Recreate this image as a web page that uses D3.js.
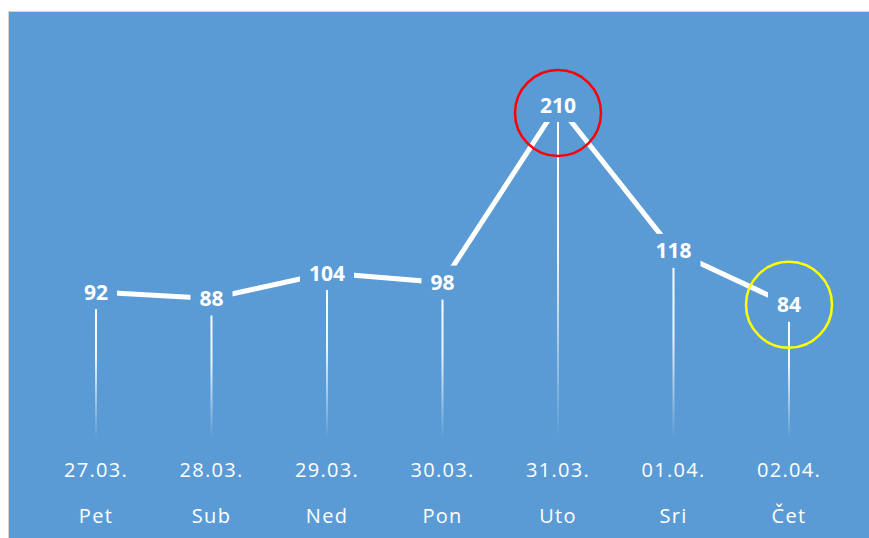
<!DOCTYPE html>
<html>
<head>
<meta charset="utf-8">
<script src="https://cdn.jsdelivr.net/npm/d3@7"></script>
<style>
  body { margin: 0; background: #fff; }
  svg { display: block; }
</style>
</head>
<body>
<svg width="869" height="538"></svg>
<script>
const dates = ["27.03.", "28.03.", "29.03.", "30.03.", "31.03.", "01.04.", "02.04."];
const days = ["Pet", "Sub", "Ned", "Pon", "Uto", "Sri", "Čet"];
const values = [92, 88, 104, 98, 210, 118, 84];
const highlights = [{idx: 4, color: "#ff0000", dy: 8}, {idx: 6, color: "#ffff00", dy: 0}];

const width = 869, height = 538;
const bg = "#5b9bd5";

const svg = d3.select("svg");

// chart area border + background
svg.append("rect")
    .attr("x", 8.5).attr("y", 11.5)
    .attr("width", width).attr("height", height)
    .attr("fill", bg)
    .attr("stroke", "#d4d4d4")
    .attr("stroke-width", 1);

const x = d3.scalePoint()
    .domain(dates)
    .range([96, 789]);

const y = d3.scaleLinear()
    .domain([0, 210])
    .range([438, 105]);

const data = dates.map((d, i) => ({date: d, day: days[i], value: values[i]}));

// gradient for drop lines
const defs = svg.append("defs");
const grad = defs.append("linearGradient")
    .attr("id", "dropGrad")
    .attr("x1", 0).attr("y1", 0).attr("x2", 0).attr("y2", 1);
grad.append("stop").attr("offset", "0%").attr("stop-color", "#fff").attr("stop-opacity", 1);
grad.append("stop").attr("offset", "45%").attr("stop-color", "#fff").attr("stop-opacity", 0.9);
grad.append("stop").attr("offset", "100%").attr("stop-color", "#fff").attr("stop-opacity", 0);

// drop lines
svg.append("g").selectAll("rect")
    .data(data)
    .enter()
    .append("rect")
    .attr("x", d => x(d.date) - 1)
    .attr("y", d => y(d.value))
    .attr("width", 2)
    .attr("height", d => y(0) - y(d.value))
    .attr("fill", "url(#dropGrad)");

// series line
const line = d3.line()
    .x(d => x(d.date))
    .y(d => y(d.value));

svg.append("path")
    .datum(data)
    .attr("fill", "none")
    .attr("stroke", "#fff")
    .attr("stroke-width", 5)
    .attr("d", line);

// data labels with background boxes
const labels = svg.append("g").selectAll("g")
    .data(data)
    .enter()
    .append("g")
    .attr("transform", d => `translate(${x(d.date)}, ${y(d.value)})`);

labels.append("rect")
    .attr("fill", bg);

labels.append("text")
    .attr("text-anchor", "middle")
    .attr("y", 7.5)
    .attr("fill", "#fff")
    .attr("font-family", "'Open Sans', sans-serif")
    .attr("font-weight", "bold")
    .attr("font-size", "21px")
    .text(d => d.value);

labels.each(function() {
    const g = d3.select(this);
    const w = g.select("text").node().getComputedTextLength();
    g.select("rect")
        .attr("x", -w / 2 - 9)
        .attr("y", -17)
        .attr("width", w + 18)
        .attr("height", 34);
});

// highlight circles
svg.append("g").selectAll("circle")
    .data(highlights)
    .enter()
    .append("circle")
    .attr("cx", d => x(dates[d.idx]))
    .attr("cy", d => y(values[d.idx]) + d.dy)
    .attr("r", 43)
    .attr("fill", "none")
    .attr("stroke", d => d.color)
    .attr("stroke-width", 2.5);

// category labels
const cats = svg.append("g")
    .attr("fill", "#fff")
    .attr("font-family", "'Open Sans', sans-serif")
    .attr("font-size", "20px")
    .attr("text-anchor", "middle");

cats.selectAll(".date")
    .data(data)
    .enter()
    .append("text")
    .attr("class", "date")
    .attr("x", d => x(d.date))
    .attr("y", 477)
    .attr("letter-spacing", "1.3px")
    .text(d => d.date);

cats.selectAll(".day")
    .data(data)
    .enter()
    .append("text")
    .attr("class", "day")
    .attr("x", d => x(d.date))
    .attr("y", 523)
    .attr("letter-spacing", "1.3px")
    .text(d => d.day);
</script>
</body>
</html>
